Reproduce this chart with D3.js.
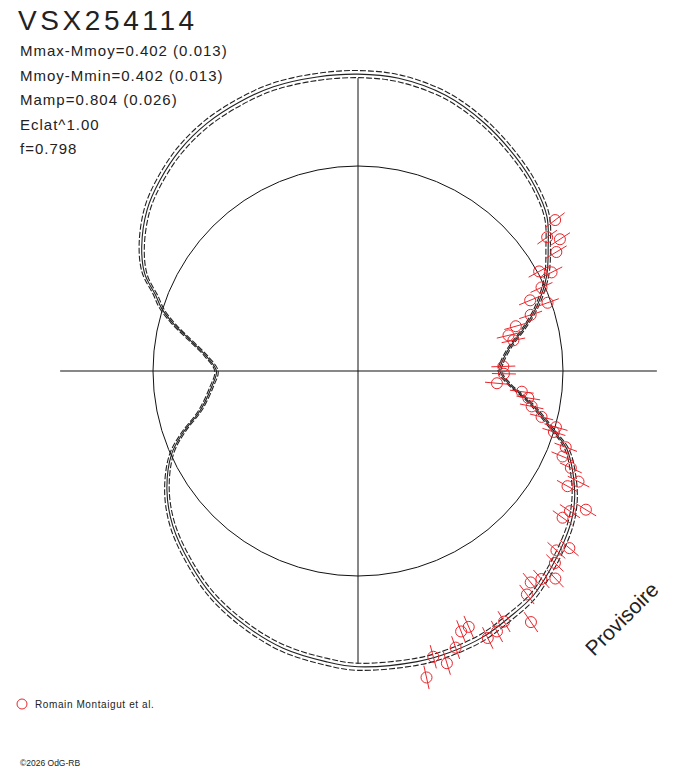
<!DOCTYPE html>
<html>
<head>
<meta charset="utf-8">
<script src="https://cdn.jsdelivr.net/npm/d3@7"></script>
<style>
  body { margin: 0; background: #fff; }
  text { font-family: "Liberation Sans", Arial, sans-serif; fill: #222; }
</style>
</head>
<body>
<svg id="chart" width="688" height="768"></svg>
<script>
const title = "VSX254114";
const infoLines = [
    "Mmax-Mmoy=0.402 (0.013)",
    "Mmoy-Mmin=0.402 (0.013)",
    "Mamp=0.804 (0.026)",
    "Eclat^1.00",
    "f=0.798"
];
const observer = "Romain Montaigut et al.";
const copyright = "\u00a92026 OdG-RB";

const magMax = -0.402;   // Mmax - Mmoy
const magSigma = 0.013;
const eclatExp = 1.00;

// mean light curve: phase, magnitude relative to Mmoy
const curvePhase = [0.000, 0.009, 0.025, 0.039, 0.055, 0.074, 0.092, 0.109, 0.128, 0.149,
    0.175, 0.201, 0.228, 0.250, 0.272, 0.296, 0.316, 0.337, 0.358, 0.378,
    0.396, 0.417, 0.432, 0.443, 0.451, 0.460, 0.471, 0.485, 0.500, 0.517,
    0.539, 0.554, 0.567, 0.589, 0.611, 0.636, 0.659, 0.685, 0.708, 0.733,
    0.750, 0.782, 0.800, 0.820, 0.838, 0.855, 0.872, 0.889, 0.903, 0.916,
    0.929, 0.943, 0.953, 0.971, 0.987];
const curveMag = [0.400, 0.384, 0.311, 0.203, 0.083, -0.031, -0.111, -0.189, -0.239, -0.282,
    -0.332, -0.374, -0.397, -0.402, -0.402, -0.401, -0.391, -0.377, -0.353, -0.319,
    -0.281, -0.213, -0.145, -0.057, -0.005, 0.079, 0.198, 0.325, 0.402, 0.360,
    0.251, 0.108, 0.003, -0.103, -0.178, -0.239, -0.291, -0.334, -0.366, -0.386,
    -0.398, -0.401, -0.399, -0.391, -0.373, -0.358, -0.325, -0.291, -0.260, -0.219,
    -0.164, -0.092, 0.005, 0.172, 0.332];

// observations
const obsPhase = [0.104, 0.098, 0.092, 0.086, 0.080, 0.075, 0.068, 0.062, 0.055, 0.050,
    0.044, 0.037, 0.031, 0.005, 0.997, 0.986, 0.980, 0.975, 0.968, 0.961,
    0.956, 0.952, 0.944, 0.937, 0.932, 0.920, 0.926, 0.907, 0.901, 0.913,
    0.889, 0.883, 0.877, 0.859, 0.865, 0.871, 0.853, 0.846, 0.834, 0.828,
    0.822, 0.815, 0.810, 0.804, 0.797, 0.791, 0.785];
const obsMag = [-0.208, -0.133, -0.176, -0.131, -0.009, -0.063, 0.018, 0.105, 0.019, 0.132,
    0.242, 0.306, 0.280, 0.373, 0.369, 0.418, 0.235, 0.188, 0.158, 0.087,
    -0.004, -0.001, -0.083, -0.085, -0.143, -0.167, -0.201, -0.233, -0.223, -0.286,
    -0.322, -0.289, -0.319, -0.311, -0.328, -0.363, -0.339, -0.431, -0.377, -0.396,
    -0.402, -0.334, -0.339, -0.389, -0.433, -0.397, -0.463];

const svg = d3.select("#chart");
svg.append("rect").attr("width", 688).attr("height", 768).attr("fill", "#fff");

const cx = 358, cy = 371;
const R0 = 205;

const flux = m => Math.pow(10, -0.4 * m);
const angle = d3.scaleLinear().domain([0, 1]).range([Math.PI / 2, Math.PI / 2 - 2 * Math.PI]);
const radius = d3.scalePow().exponent(eclatExp).domain([0, 1]).range([0, R0]);
const rOf = m => radius(flux(m));

const g = svg.append("g").attr("transform", `translate(${cx},${cy})`);

// axes
const rAxis = rOf(magMax);
g.append("line").attr("x1", -rAxis - 1).attr("x2", rAxis + 2).attr("y1", 0).attr("y2", 0)
    .attr("stroke", "#111").attr("stroke-width", 1);
g.append("line").attr("x1", 0).attr("x2", 0).attr("y1", -rAxis + 4).attr("y2", rAxis - 4)
    .attr("stroke", "#111").attr("stroke-width", 1);

// mean magnitude circle
g.append("circle").attr("r", radius(1)).attr("fill", "none")
    .attr("stroke", "#111").attr("stroke-width", 1);

// curves
const curve = curvePhase.map((p, i) => ({ p: p, m: curveMag[i] }));
const line = off => d3.lineRadial()
    .angle(d => angle(d.p))
    .radius(d => rOf(d.m + off))
    .curve(d3.curveCatmullRomClosed.alpha(0.5));

g.append("path").attr("d", line(-magSigma)(curve))
    .attr("fill", "none").attr("stroke", "#222").attr("stroke-width", 1.1)
    .attr("stroke-dasharray", "6,2");
g.append("path").attr("d", line(magSigma)(curve))
    .attr("fill", "none").attr("stroke", "#222").attr("stroke-width", 1.1)
    .attr("stroke-dasharray", "6,2");
g.append("path").attr("d", line(0)(curve))
    .attr("fill", "none").attr("stroke", "#222").attr("stroke-width", 1.1);

// observations
const obs = obsPhase.map((p, i) => ({ p: p, m: obsMag[i] }));
const red = "#e8262c";
const bar = 12;
const pts = g.append("g").selectAll("g").data(obs).join("g");
pts.append("line")
    .attr("x1", d => d3.pointRadial(angle(d.p), rOf(d.m) - bar)[0])
    .attr("y1", d => d3.pointRadial(angle(d.p), rOf(d.m) - bar)[1])
    .attr("x2", d => d3.pointRadial(angle(d.p), rOf(d.m) + bar)[0])
    .attr("y2", d => d3.pointRadial(angle(d.p), rOf(d.m) + bar)[1])
    .attr("stroke", red).attr("stroke-width", 1);
pts.append("circle")
    .attr("cx", d => d3.pointRadial(angle(d.p), rOf(d.m))[0])
    .attr("cy", d => d3.pointRadial(angle(d.p), rOf(d.m))[1])
    .attr("r", 5.5)
    .attr("fill", "none").attr("stroke", red).attr("stroke-width", 1);

// texts
svg.append("text").attr("x", 18).attr("y", 30)
    .attr("font-size", 28).attr("letter-spacing", 3.6).text(title);
svg.selectAll(".info").data(infoLines).join("text")
    .attr("class", "info")
    .attr("x", 20).attr("y", (d, i) => 56 + i * 24.6)
    .attr("font-size", 15).attr("letter-spacing", 1)
    .text(d => d);

svg.append("text")
    .attr("transform", "translate(594,657) rotate(-45)")
    .attr("font-size", 21).text("Provisoire");

svg.append("circle").attr("cx", 22).attr("cy", 704).attr("r", 5)
    .attr("fill", "none").attr("stroke", red).attr("stroke-width", 1);
svg.append("text").attr("x", 35).attr("y", 708)
    .attr("font-size", 10).attr("letter-spacing", 0.6).text(observer);

svg.append("text").attr("x", 20).attr("y", 766)
    .attr("font-size", 8.5).text(copyright);
</script>
</body>
</html>
